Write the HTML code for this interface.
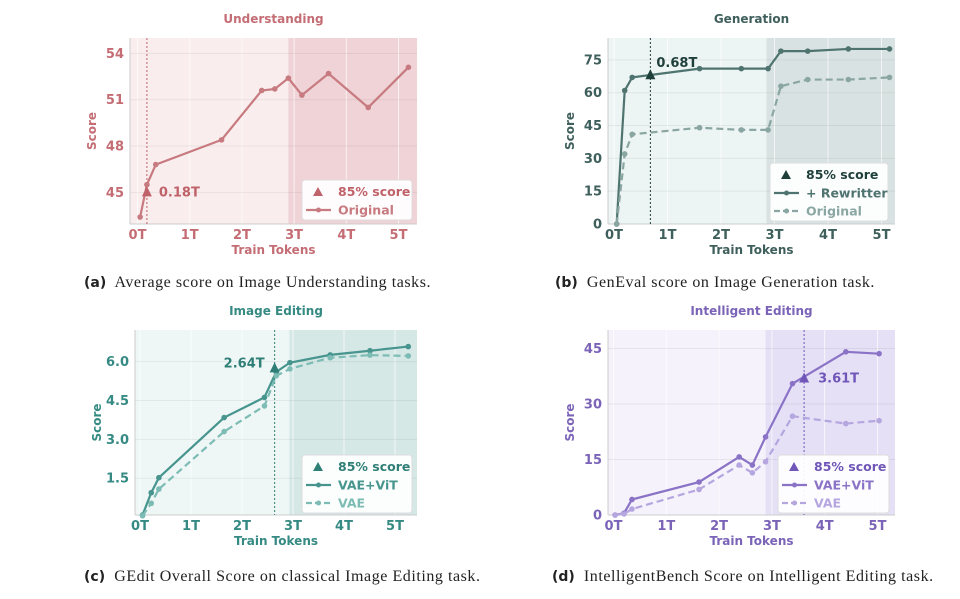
<!DOCTYPE html>
<html><head><meta charset="utf-8"><style>
body{margin:0;background:#fff;width:960px;height:599px;overflow:hidden;position:relative;font-family:"DejaVu Sans","Liberation Sans",sans-serif}
svg{position:absolute;left:0;top:0}
.cap{position:absolute;font-family:"Liberation Serif",serif;font-size:16px;letter-spacing:0.55px;color:#222;white-space:nowrap}
.cap b{font-family:"DejaVu Sans",sans-serif;font-size:14px;letter-spacing:0}
</style></head><body>
<svg id="svg" width="960" height="599"></svg>
<div class="cap" style="left:84px;top:274px"><b>(a)</b>&nbsp; Average score on Image Understanding tasks.</div>
<div class="cap" style="left:555px;top:274px"><b>(b)</b>&nbsp; GenEval score on Image Generation task.</div>
<div class="cap" style="left:84px;top:568px"><b>(c)</b>&nbsp; GEdit Overall Score on classical Image Editing task.</div>
<div class="cap" style="left:552px;top:568px"><b>(d)</b>&nbsp; IntelligentBench Score on Intelligent Editing task.</div>
<script>
// ---- data ----
const aX=[0.05,0.18,0.35,1.61,2.38,2.63,2.89,3.15,3.66,4.42,5.19];
const aOrig=[43.4,45.5,46.8,48.4,51.6,51.7,52.4,51.3,52.7,50.5,53.1];
const aMark=[0.18,45.0];
const bX=[0.05,0.2,0.34,1.6,2.38,2.88,3.12,3.62,4.38,5.15];
const bRew=[0,61,67,71,71,71,79,79,80,80];
const bOrig=[0,32,41,44,43,43,63,66,66,67];
const bMark=[0.68,68];
const cX=[0.05,0.22,0.37,1.65,2.44,2.67,2.94,3.73,4.51,5.26];
const cVit=[0.08,0.94,1.52,3.84,4.62,5.6,5.96,6.26,6.42,6.58];
const cVae=[0.05,0.53,1.08,3.30,4.29,5.45,5.72,6.15,6.25,6.22];
const cMark=[2.64,5.74];
const dX=[0.03,0.2,0.35,1.62,2.38,2.63,2.88,3.39,4.4,5.03];
const dVit=[0,0.5,4.2,8.9,15.7,13.5,21.1,35.5,44.1,43.6];
const dVae=[0,0.3,1.6,6.9,13.5,11.4,14.4,26.7,24.7,25.5];
const dMark=[3.61,36.9];
const xTicks=[0,1,2,3,4,5];
const aTicks=[45,48,51,54], bTicks=[0,15,30,45,60,75], cTicks=[1.5,3.0,4.5,6.0], dTicks=[0,15,30,45];

const NS="http://www.w3.org/2000/svg";
const svg=document.getElementById('svg');
function el(t,a,p){const e=document.createElementNS(NS,t);for(const k in a)e.setAttribute(k,a[k]);(p||svg).appendChild(e);return e;}
function txt(s,a,p){const e=el('text',a,p);e.textContent=s;return e;}

function chart(c){
  const g=el('g',{});
  
  
  const sx=v=>c.x0+(v)*c.xs, sy=v=>c.yb-(v-c.ymin)/(c.ymax-c.ymin)*(c.yb-c.yt);
  el('rect',{x:c.L,y:c.yt,width:c.R-c.L,height:c.yb-c.yt,fill:c.bg},g);
  el('rect',{x:sx(c.shade),y:c.yt,width:c.R-sx(c.shade),height:c.yb-c.yt,fill:c.sh},g);
  xTicks.forEach(t=>{el('line',{x1:sx(t),x2:sx(t),y1:c.yt,y2:c.yb,stroke:'#fff',"stroke-opacity":0.7,"stroke-width":1},g);
    const tl=txt(t+'T',{x:sx(t),y:c.yb+15,'text-anchor':'middle','font-size':13,'font-weight':'bold',fill:c.col},g);
    });
  c.yt2.forEach(t=>{el('line',{x1:c.L,x2:c.R,y1:sy(t),y2:sy(t),stroke:'#000',"stroke-opacity":0.06},g);
    const tl=txt(c.fmt(t),{x:c.L-6,y:sy(t)+4.5,'text-anchor':'end','font-size':13,'font-weight':'bold',fill:c.col},g);
    });
  el('line',{x1:c.L,x2:c.L,y1:c.yt,y2:c.yb,stroke:'#ccc'},g);
  el('line',{x1:c.L,x2:c.R,y1:c.yb,y2:c.yb,stroke:'#ccc'},g);
  el('line',{x1:sx(c.mark[0]),x2:sx(c.mark[0]),y1:c.yt,y2:c.yb,stroke:c.col2,'stroke-width':1,'stroke-dasharray':'2,2'},g);
  c.series.forEach(s=>{
    const pl=el('polyline',{points:s.x.map((v,i)=>sx(v)+','+sy(s.y[i])).join(' '),fill:'none',stroke:s.col,'stroke-width':2.2,'stroke-dasharray':s.dash?'7,4':'none'},g);
    
    s.x.forEach((v,i)=>{const p=el('circle',{cx:sx(v),cy:sy(s.y[i]),r:2.8,fill:s.col},g);
      });
  });
  const mx=sx(c.mark[0]),my=sy(c.mark[1]);
  const tri=el('polygon',{points:`${mx},${my-6} ${mx-5},${my+4} ${mx+5},${my+4}`,fill:c.col2},g);
  
  const ml=txt(c.mark[0].toFixed(2)+'T',{x:mx+c.mlx,y:my+c.mly,'font-size':13,'font-weight':'bold',fill:c.col2,'text-anchor':c.mla},g);
  
  const tt=txt(c.title,{x:(c.L+c.R)/2,y:c.yt-15,'text-anchor':'middle','font-size':12,'font-weight':'bold',fill:c.col},g);
  
  const xl=txt('Train Tokens',{x:(c.L+c.R)/2,y:c.yb+30,'text-anchor':'middle','font-size':12,'font-weight':'bold',fill:c.col},g);
  
  const ycx=c.L-34,ycy=(c.yt+c.yb)/2;
  const yl=txt('Score',{x:ycx,y:ycy,transform:`rotate(-90 ${ycx} ${ycy})`,'text-anchor':'middle','font-size':12,'font-weight':'bold',fill:c.col},g);
  
  const lg=el('g',{},g);
  
  const lx=c.lg[0],ly=c.lg[1],lw=c.lg[2],lh=18*(c.series.length+1)+4;
  el('rect',{x:lx,y:ly,width:lw,height:lh,fill:'#fff','fill-opacity':0.92,stroke:'#ddd',rx:3},lg);
  el('polygon',{points:`${lx+16},${ly+7} ${lx+11},${ly+16} ${lx+21},${ly+16}`,fill:c.col2},lg);
  txt('85% score',{x:lx+36,y:ly+16,'font-size':12.5,'font-weight':'bold',fill:c.col2},lg);
  c.series.forEach((s,i)=>{const yy=ly+30+18*i;
    el('line',{x1:lx+4,x2:lx+29,y1:yy,y2:yy,stroke:s.col,'stroke-width':2.2,'stroke-dasharray':s.dash?'6,3':'none'},lg);
    el('circle',{cx:lx+16.5,cy:yy,r:2.5,fill:s.col},lg);
    txt(s.label,{x:lx+36,y:yy+4.5,'font-size':12.5,'font-weight':'bold',fill:s.col},lg);});
}
chart({name:'understanding-chart',title:'Understanding',L:130,R:417,yt:38,yb:224,x0:137.5,xs:52.2,ymin:42.95,ymax:55,
  bg:'#f9eded',sh:'#efd3d6',col:'#c46d74',col2:'#c0626a',shade:2.89,yt2:aTicks,fmt:v=>String(v),mark:aMark,mlx:12,mly:4,mla:'start',
  series:[{name:'original',label:'Original',x:aX,y:aOrig,col:'#c77a7f',dash:false}],lg:[302,180,110]});
chart({name:'generation-chart',title:'Generation',L:608,R:895,yt:38,yb:224,x0:614,xs:53.5,ymin:0,ymax:85,
  bg:'#edf4f4',sh:'#d9e2e2',col:'#3e5f5b',col2:'#1f3f3b',shade:2.85,yt2:bTicks,fmt:v=>String(v),mark:bMark,mlx:6,mly:-8,mla:'start',
  series:[{name:'rewritter',label:'+ Rewritter',x:bX,y:bRew,col:'#4f7470',dash:false},{name:'original',label:'Original',x:bX,y:bOrig,col:'#8aa6a2',dash:true}],lg:[770,163,118]});
chart({name:'image-editing-chart',title:'Image Editing',L:135,R:417,yt:330,yb:515,x0:140,xs:51,ymin:0.08,ymax:7.22,
  bg:'#eef7f6',sh:'#d5e8e6',col:'#358a83',col2:'#2f7f77',shade:2.93,yt2:cTicks,fmt:v=>v.toFixed(1),mark:cMark,mlx:-10,mly:-1,mla:'end',
  series:[{name:'vae-vit',label:'VAE+ViT',x:cX,y:cVit,col:'#47958e',dash:false},{name:'vae',label:'VAE',x:cX,y:cVae,col:'#7dbcb5',dash:true}],lg:[302,455,110]});
chart({name:'intelligent-editing-chart',title:'Intelligent Editing',L:608,R:895,yt:330,yb:515,x0:613.5,xs:52.8,ymin:0,ymax:50,
  bg:'#f5f2fb',sh:'#e5e0f5',col:'#7b64b8',col2:'#6f56b8',shade:2.88,yt2:dTicks,fmt:v=>String(v),mark:dMark,mlx:14,mly:4,mla:'start',
  series:[{name:'vae-vit',label:'VAE+ViT',x:dX,y:dVit,col:'#8a72c6',dash:false},{name:'vae',label:'VAE',x:dX,y:dVae,col:'#b6a6e0',dash:true}],lg:[778,455,111]});
</script>
</body></html>
